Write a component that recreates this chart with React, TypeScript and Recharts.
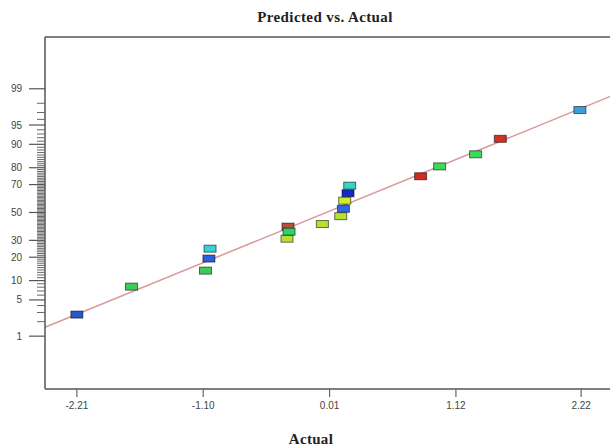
import React from 'react';
import { ScatterChart, Scatter, XAxis, YAxis, ReferenceLine } from 'recharts';

const actualValues = [-2.21, -1.73, -1.08, -1.05, -1.04, -0.355, -0.364, -0.346, -0.053, 0.108, 0.132, 0.143, 0.172, 0.187, 0.81, 0.977, 1.293, 1.51, 2.209];
const probabilityPct = [2.74, 8.15, 13.7, 19.3, 24.8, 39.5, 31.1, 35.9, 41.4, 47.2, 52.8, 58.8, 64.1, 69.3, 75.2, 80.7, 86.3, 91.7, 97.3];
const pointColors = ['#2458d0', '#3ccc5a', '#3ccc5a', '#2a5fe0', '#38d0d8', '#b8503e', '#b4e030', '#2ed264', '#b8e030', '#b8e030', '#2a6ae8', '#d0ee28', '#1428c8', '#38d4c0', '#d02a22', '#38dc58', '#38dc58', '#d0321e', '#3aa0dc'];

const xTicks = [-2.21, -1.1, 0.01, 1.12, 2.22];
const yMajorPct = [1, 5, 10, 20, 30, 50, 70, 80, 90, 95, 99];
const yMinorPct = Array.from({ length: 99 }, (_, i) => i + 1);

// fitted line endpoints (actual, % probability)
const lineActual = [-2.49, 2.5];
const linePct = [1.54, 98.62];

const X_DOMAIN: [number, number] = [-2.49, 2.5];
const Y_DOMAIN: [number, number] = [-3.32, 3.3];

// inverse normal CDF (probability scale)
function probit(p: number): number {
  const a = [-3.969683028665376e1, 2.209460984245205e2, -2.759285104469687e2, 1.38357751867269e2, -3.066479806614716e1, 2.506628277459239];
  const b = [-5.447609879822406e1, 1.615858368580409e2, -1.556989798598866e2, 6.680131188771972e1, -1.328068155288572e1];
  const c = [-7.784894002430293e-3, -3.223964580411365e-1, -2.400758277161838, -2.549732539343734, 4.374664141464968, 2.938163982698783];
  const d = [7.784695709041462e-3, 3.224671290700398e-1, 2.445134137142996, 3.754408661907416];
  const pl = 0.02425;
  if (p < pl) {
    const q = Math.sqrt(-2 * Math.log(p));
    return (((((c[0] * q + c[1]) * q + c[2]) * q + c[3]) * q + c[4]) * q + c[5]) / ((((d[0] * q + d[1]) * q + d[2]) * q + d[3]) * q + 1);
  }
  if (p > 1 - pl) {
    const q = Math.sqrt(-2 * Math.log(1 - p));
    return -(((((c[0] * q + c[1]) * q + c[2]) * q + c[3]) * q + c[4]) * q + c[5]) / ((((d[0] * q + d[1]) * q + d[2]) * q + d[3]) * q + 1);
  }
  const q = p - 0.5;
  const r = q * q;
  return (((((a[0] * r + a[1]) * r + a[2]) * r + a[3]) * r + a[4]) * r + a[5]) * q / (((((b[0] * r + b[1]) * r + b[2]) * r + b[3]) * r + b[4]) * r + 1);
}

const data = actualValues.map((x, i) => ({ x, y: probit(probabilityPct[i] / 100), color: pointColors[i] }));
const yTickZ = yMinorPct.map((p) => probit(p / 100));

const YTick = (props: any) => {
  const { x, y, payload } = props;
  const z = payload.value;
  let idx = 0;
  let best = Infinity;
  yTickZ.forEach((t, i) => {
    const d = Math.abs(t - z);
    if (d < best) { best = d; idx = i; }
  });
  const pct = yMinorPct[idx];
  const major = yMajorPct.includes(pct);
  return (
    <g>
      <line x1={x - (major ? 16 : 8)} x2={x} y1={y} y2={y} stroke={major ? '#555' : '#666'} strokeWidth={major ? 1.2 : 1} />
      {major && (
        <text x={x - 23} y={y} dy={3.5} textAnchor="end" fontSize={10} fill="#444" fontFamily="'Liberation Sans', Arial, sans-serif">
          {pct}
        </text>
      )}
    </g>
  );
};

const Marker = (props: any) => {
  const { cx, cy, payload } = props;
  return <rect x={cx - 6} y={cy - 3.5} width={12} height={7} fill={payload.color} stroke="rgba(0,0,0,0.55)" strokeWidth={1} />;
};

export default function App() {
  return (
    <div style={{ position: 'absolute', left: 0, top: 0, width: 610, height: 446, overflow: 'hidden', background: '#fff' }}>
      <div style={{ position: 'absolute', left: 225, top: 9, width: 200, textAlign: 'center', fontFamily: "'Liberation Serif', 'Times New Roman', serif", fontWeight: 'bold', fontSize: 15, letterSpacing: 0.4, color: '#222', whiteSpace: 'nowrap' }}>
        Predicted vs. Actual
      </div>
      <div style={{ position: 'absolute', left: 261, top: 431, width: 100, textAlign: 'center', fontFamily: "'Liberation Serif', 'Times New Roman', serif", fontWeight: 'bold', fontSize: 15, letterSpacing: 0.3, color: '#222' }}>
        Actual
      </div>
      <ScatterChart width={620} height={446} margin={{ top: 37, right: 7, bottom: 0, left: 0 }}>
        <XAxis
          type="number"
          dataKey="x"
          domain={X_DOMAIN}
          ticks={xTicks}
          allowDataOverflow
          height={57}
          tickSize={8}
          tickMargin={5}
          tickFormatter={(v: number) => v.toFixed(2)}
          stroke="#555"
          axisLine={{ stroke: '#555', strokeWidth: 1.5 }}
          tickLine={{ stroke: '#666', strokeWidth: 1.2 }}
          tick={{ fontSize: 10, fill: '#444', fontFamily: "'Liberation Sans', Arial, sans-serif" }}
        />
        <YAxis
          type="number"
          dataKey="y"
          domain={Y_DOMAIN}
          ticks={yTickZ}
          interval={0}
          allowDataOverflow
          width={45}
          tickSize={0}
          tickMargin={0}
          tickLine={false}
          axisLine={{ stroke: '#555', strokeWidth: 1.5 }}
          tick={<YTick />}
        />
        <ReferenceLine y={Y_DOMAIN[1]} stroke="#555" strokeWidth={1.5} ifOverflow="visible" />
        <ReferenceLine
          segment={[
            { x: lineActual[0], y: probit(linePct[0] / 100) },
            { x: lineActual[1], y: probit(linePct[1] / 100) },
          ]}
          stroke="#d99a9a"
          strokeWidth={1.5}
          ifOverflow="visible"
        />
        <Scatter data={data} shape={<Marker />} isAnimationActive={false} />
      </ScatterChart>
    </div>
  );
}
